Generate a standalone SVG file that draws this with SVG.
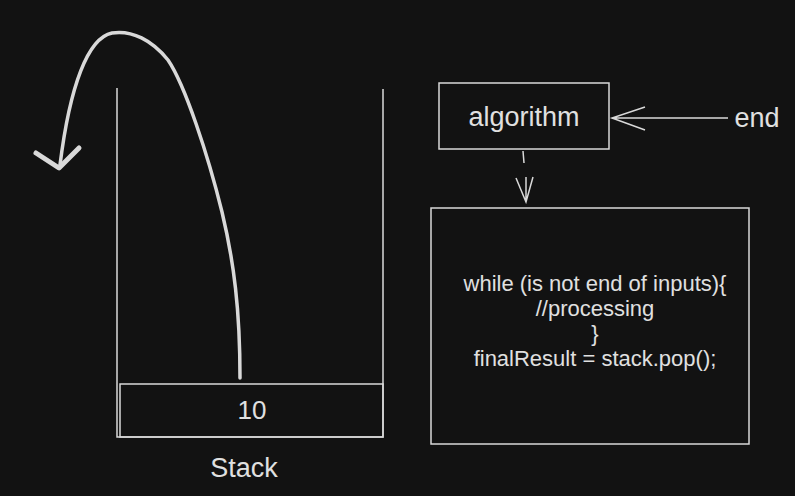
<svg xmlns="http://www.w3.org/2000/svg" width="795" height="496" viewBox="0 0 795 496">
<style>
.ln{stroke:#d9d9d9;stroke-width:1.5;fill:none}
.box{stroke:#d9d9d9;stroke-width:1.5;fill:none}
.t{fill:#e0e0e0;font-family:"Liberation Sans",Arial,sans-serif;text-anchor:middle;dominant-baseline:central}
</style>
<rect width="795" height="496" fill="#121212"/>
<g id="stack">
<path class="ln" d="M117,88 V437 H383 V89"/>
<text class="t" x="244" y="468" font-size="27">Stack</text>
</g>
<g id="item10">
<rect class="box" x="120" y="384" width="263" height="53"/>
<text class="t" x="252" y="410" font-size="26">10</text>
</g>
<g id="algorithm">
<rect class="box" x="439" y="83" width="170" height="66"/>
<text class="t" x="524" y="117" font-size="27">algorithm</text>
</g>
<g id="end">
<text class="t" x="757" y="118" font-size="27">end</text>
</g>
<g id="code">
<rect class="box" x="431" y="208" width="318" height="236"/>
<text class="t" x="595" y="283" font-size="22">while (is not end of inputs){</text>
<text class="t" x="595" y="308" font-size="22">//processing</text>
<text class="t" x="595" y="333" font-size="22">}</text>
<text class="t" x="595" y="358" font-size="22">finalResult = stack.pop();</text>
</g>
<g id="connectors">
<path d="M240,378 C240,310 234,262 222,212 C208,155 185,85 168,60 C152,40 132,30 112,33 C88,38 70,85 60,165" stroke="#d9d9d9" stroke-width="3.5" fill="none" stroke-linecap="round"/>
<path d="M36,153 L59,168 L79,148" stroke="#d9d9d9" stroke-width="5" fill="none" stroke-linecap="round" stroke-linejoin="round"/>
<path class="ln" d="M728,118 H612 M645,107 L612,118 L645,130"/>
<path class="ln" d="M523,151 L524,163 M526,177 L526,200 M516,178 L526,202 L533,177"/>
</g>
</svg>
